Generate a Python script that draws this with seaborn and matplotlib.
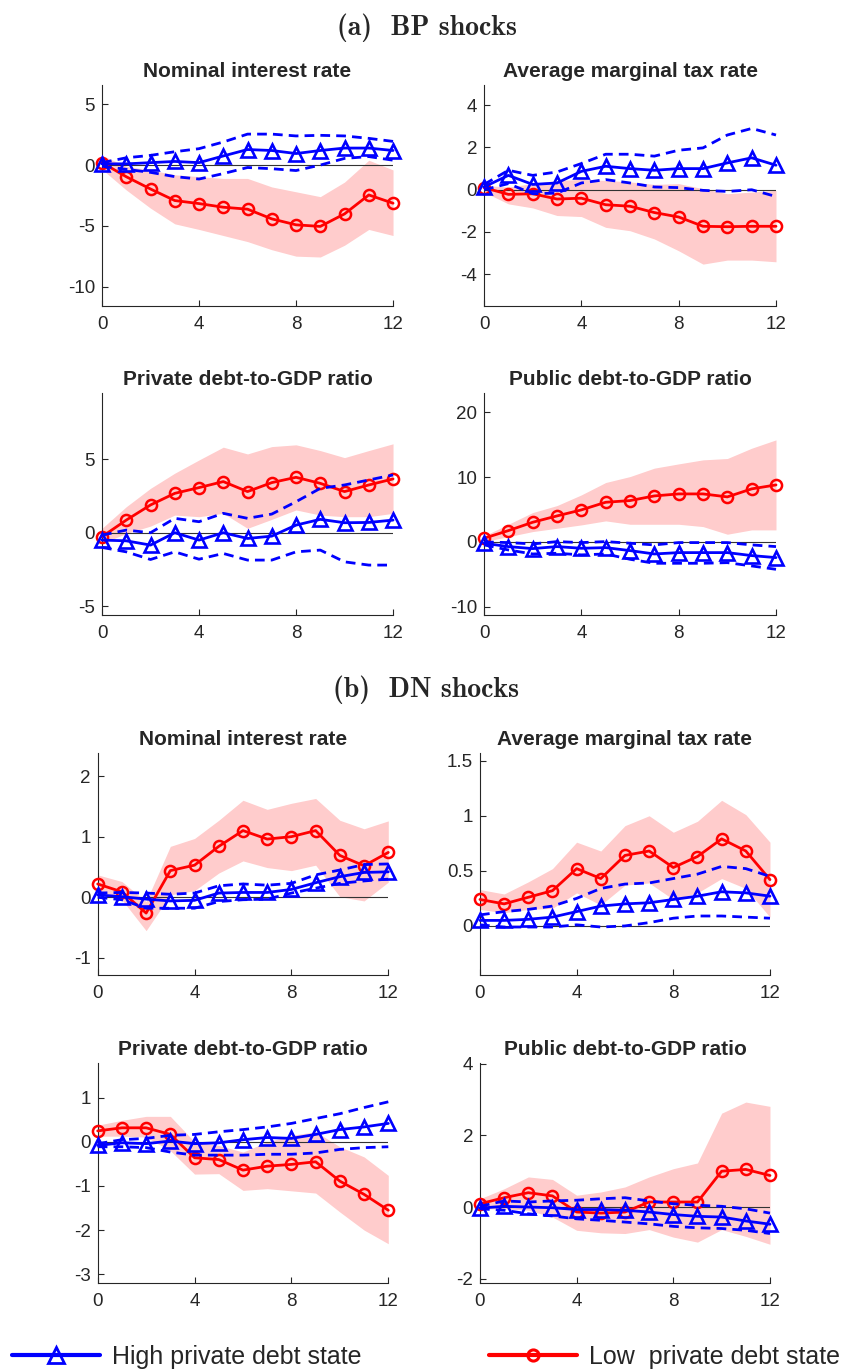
import matplotlib
matplotlib.use("Agg")
import matplotlib.pyplot as plt
from matplotlib.lines import Line2D
from matplotlib.ticker import FuncFormatter
import seaborn as sns

sns.set_style("ticks")
plt.rcParams["font.family"] = ["Liberation Sans", "DejaVu Sans"]
plt.rcParams["axes.unicode_minus"] = False

horizon = list(range(13))

# ---------------- (a) BP shocks ----------------
# Nominal interest rate
bp_rate_low = [0.2, -0.96, -1.97, -2.92, -3.17, -3.47, -3.63, -4.43, -4.92, -5.05, -4.02, -2.46, -3.14]
bp_rate_low_hi = [0.8, -0.1, -0.4, -0.8, -0.95, -1.1, -1.1, -1.8, -2.2, -2.6, -1.4, 0.4, -0.4]
bp_rate_low_lo = [-0.35, -2.05, -3.55, -4.84, -5.3, -5.8, -6.3, -6.97, -7.5, -7.57, -6.6, -5.3, -5.8]
bp_rate_high = [0.1, 0.1, 0.2, 0.3, 0.2, 0.75, 1.28, 1.2, 0.95, 1.2, 1.4, 1.4, 1.2]
bp_rate_high_hi = [0.2, 0.6, 0.8, 1.1, 1.35, 1.9, 2.55, 2.55, 2.4, 2.45, 2.4, 2.2, 1.95]
bp_rate_high_lo = [-0.1, -0.35, -0.6, -0.95, -1.15, -0.7, -0.2, -0.3, -0.45, 0.0, 0.55, 0.7, 0.4]

# Average marginal tax rate
bp_tax_low = [0.1, -0.22, -0.19, -0.44, -0.4, -0.71, -0.78, -1.08, -1.29, -1.73, -1.75, -1.73, -1.73]
bp_tax_low_hi = [0.2, 0.13, 0.29, 0.44, 0.49, 0.44, 0.37, 0.25, 0.29, 0.05, -0.19, -0.11, -0.03]
bp_tax_low_lo = [-0.11, -0.67, -0.86, -1.22, -1.27, -1.78, -1.94, -2.33, -2.89, -3.52, -3.33, -3.33, -3.41]
bp_tax_high = [0.13, 0.68, 0.25, 0.32, 0.87, 1.11, 1.0, 0.92, 1.0, 1.0, 1.27, 1.51, 1.16]
bp_tax_high_hi = [0.25, 0.92, 0.68, 0.84, 1.24, 1.68, 1.68, 1.59, 1.87, 1.98, 2.59, 2.9, 2.59]
bp_tax_high_lo = [0.0, 0.29, -0.19, -0.16, 0.32, 0.48, 0.32, 0.13, 0.1, -0.03, -0.08, 0.0, -0.32]

# Private debt-to-GDP ratio
bp_priv_low = [-0.27, 0.86, 1.89, 2.68, 3.07, 3.48, 2.8, 3.41, 3.77, 3.36, 2.8, 3.25, 3.66]
bp_priv_low_hi = [0.3, 1.77, 3.02, 4.05, 4.95, 5.82, 5.36, 5.86, 5.98, 5.59, 5.11, 5.59, 6.05]
bp_priv_low_lo = [-0.73, -0.05, 0.45, 1.2, 1.09, 1.32, 0.3, 0.91, 1.55, 1.2, 1.09, 1.09, 1.32]
bp_priv_high = [-0.5, -0.55, -0.84, 0.0, -0.5, 0.0, -0.39, -0.23, 0.52, 0.91, 0.68, 0.7, 0.86]
bp_priv_high_hi = [-0.16, 0.18, 0.0, 0.98, 0.75, 1.32, 0.98, 1.27, 2.11, 3.02, 3.25, 3.59, 3.93]
bp_priv_high_lo = [-1.0, -1.3, -1.82, -1.3, -1.8, -1.41, -1.86, -1.86, -1.3, -1.18, -1.98, -2.2, -2.2]

# Public debt-to-GDP ratio
bp_pub_low = [0.57, 1.75, 3.04, 4.02, 4.95, 6.13, 6.39, 7.11, 7.42, 7.42, 6.96, 8.2, 8.81]
bp_pub_low_hi = [0.93, 2.73, 4.54, 5.62, 7.27, 9.18, 10.1, 11.4, 12.06, 12.68, 12.89, 14.48, 15.77]
bp_pub_low_lo = [0.05, 0.82, 1.6, 2.11, 2.63, 3.25, 2.73, 2.73, 2.73, 2.37, 1.19, 1.86, 1.86]
bp_pub_high = [-0.2, -0.72, -1.03, -0.72, -0.98, -0.88, -1.34, -1.86, -1.65, -1.65, -1.65, -2.11, -2.42]
bp_pub_high_hi = [0.0, -0.1, -0.31, 0.05, -0.1, 0.05, -0.2, -0.46, -0.1, -0.1, -0.1, -0.46, -0.72]
bp_pub_high_lo = [-0.46, -1.24, -1.86, -1.75, -2.0, -1.86, -2.68, -3.3, -3.3, -3.3, -3.2, -3.71, -4.23]

# ---------------- (b) DN shocks ----------------
# Nominal interest rate
dn_rate_low = [0.22, 0.09, -0.26, 0.44, 0.53, 0.84, 1.1, 0.96, 1.0, 1.1, 0.69, 0.52, 0.74]
dn_rate_low_hi = [0.37, 0.26, -0.07, 0.84, 0.97, 1.27, 1.6, 1.45, 1.55, 1.63, 1.27, 1.13, 1.26]
dn_rate_low_lo = [0.07, -0.04, -0.55, 0.04, 0.11, 0.4, 0.6, 0.49, 0.44, 0.53, 0.01, -0.06, 0.25]
dn_rate_high = [0.04, 0.01, -0.03, -0.06, -0.05, 0.07, 0.08, 0.08, 0.13, 0.24, 0.34, 0.41, 0.42]
dn_rate_high_hi = [0.07, 0.08, 0.07, 0.05, 0.07, 0.19, 0.22, 0.2, 0.23, 0.37, 0.45, 0.54, 0.55]
dn_rate_high_lo = [0.0, -0.04, -0.18, -0.18, -0.18, -0.07, -0.04, -0.03, 0.07, 0.15, 0.23, 0.27, 0.3]

# Average marginal tax rate
dn_tax_low = [0.24, 0.2, 0.26, 0.32, 0.52, 0.43, 0.64, 0.68, 0.53, 0.63, 0.79, 0.68, 0.42]
dn_tax_low_hi = [0.33, 0.29, 0.4, 0.52, 0.76, 0.68, 0.91, 1.0, 0.85, 0.95, 1.14, 1.01, 0.76]
dn_tax_low_lo = [0.15, 0.12, 0.15, 0.16, 0.3, 0.19, 0.37, 0.39, 0.24, 0.3, 0.43, 0.34, 0.08]
dn_tax_high = [0.05, 0.05, 0.06, 0.08, 0.13, 0.18, 0.2, 0.21, 0.24, 0.27, 0.31, 0.3, 0.27]
dn_tax_high_hi = [0.1, 0.13, 0.15, 0.18, 0.25, 0.34, 0.38, 0.39, 0.43, 0.47, 0.54, 0.52, 0.45]
dn_tax_high_lo = [0.01, -0.01, -0.01, -0.01, 0.01, -0.01, 0.0, 0.03, 0.07, 0.09, 0.09, 0.08, 0.07]

# Private debt-to-GDP ratio
dn_priv_low = [0.25, 0.32, 0.32, 0.17, -0.36, -0.4, -0.64, -0.55, -0.51, -0.45, -0.89, -1.19, -1.55]
dn_priv_low_hi = [0.38, 0.49, 0.58, 0.58, 0.0, -0.08, -0.23, 0.0, 0.15, 0.23, -0.11, -0.34, -0.76]
dn_priv_low_lo = [0.13, 0.13, 0.11, -0.2, -0.73, -0.72, -1.1, -1.06, -1.11, -1.16, -1.59, -2.0, -2.31]
dn_priv_high = [-0.08, -0.02, -0.04, 0.02, -0.04, -0.02, 0.05, 0.1, 0.08, 0.17, 0.28, 0.34, 0.42]
dn_priv_high_hi = [-0.04, 0.05, 0.08, 0.15, 0.17, 0.23, 0.28, 0.34, 0.42, 0.53, 0.64, 0.78, 0.91]
dn_priv_high_lo = [-0.11, -0.11, -0.13, -0.23, -0.3, -0.3, -0.3, -0.28, -0.28, -0.25, -0.17, -0.13, -0.11]

# Public debt-to-GDP ratio
dn_pub_low = [0.09, 0.26, 0.4, 0.31, -0.14, -0.17, -0.14, 0.14, 0.14, 0.14, 1.0, 1.05, 0.88]
dn_pub_low_hi = [0.23, 0.51, 0.84, 0.77, 0.33, 0.42, 0.56, 0.84, 1.07, 1.23, 2.62, 2.93, 2.81]
dn_pub_low_lo = [-0.05, -0.05, -0.09, -0.28, -0.65, -0.72, -0.74, -0.63, -0.84, -0.98, -0.63, -0.82, -1.04]
dn_pub_high = [-0.03, 0.02, 0.0, -0.02, -0.07, -0.07, -0.09, -0.14, -0.21, -0.26, -0.28, -0.39, -0.48]
dn_pub_high_hi = [0.02, 0.17, 0.14, 0.17, 0.19, 0.23, 0.26, 0.17, 0.09, 0.05, 0.02, -0.05, -0.17]
dn_pub_high_lo = [-0.05, -0.09, -0.19, -0.25, -0.33, -0.37, -0.42, -0.47, -0.54, -0.58, -0.6, -0.65, -0.74]

panel_titles = ["Nominal interest rate", "Average marginal tax rate",
                "Private debt-to-GDP ratio", "Public debt-to-GDP ratio"]
section_titles = ["(a)  BP shocks", "(b)  DN shocks"]
legend_labels = ["High private debt state", "Low  private debt state"]
x_ticks = [0, 4, 8, 12]

BLUE = "#0000ff"
RED = "#ff0000"
BAND = "#ffcccc"
AXIS = "#262626"

# panel specs: (series, y-limits, y-ticks, axes rect in figure fraction)
panels = [
    ((bp_rate_low, bp_rate_low_lo, bp_rate_low_hi, bp_rate_high, bp_rate_high_lo, bp_rate_high_hi),
     (-11.6, 6.6), [-10, -5, 0, 5], [0.1203, 0.7770, 0.3432, 0.1611]),
    ((bp_tax_low, bp_tax_low_lo, bp_tax_low_hi, bp_tax_high, bp_tax_high_lo, bp_tax_high_hi),
     (-5.5, 4.96), [-4, -2, 0, 2, 4], [0.5708, 0.7770, 0.3443, 0.1611]),
    ((bp_priv_low, bp_priv_low_lo, bp_priv_low_hi, bp_priv_high, bp_priv_high_lo, bp_priv_high_hi),
     (-5.6, 9.5), [-5, 0, 5], [0.1203, 0.5517, 0.3432, 0.1618]),
    ((bp_pub_low, bp_pub_low_lo, bp_pub_low_hi, bp_pub_high, bp_pub_high_lo, bp_pub_high_hi),
     (-11.3, 23.0), [-10, 0, 10, 20], [0.5708, 0.5517, 0.3443, 0.1618]),
    ((dn_rate_low, dn_rate_low_lo, dn_rate_low_hi, dn_rate_high, dn_rate_high_lo, dn_rate_high_hi),
     (-1.28, 2.38), [-1, 0, 1, 2], [0.1152, 0.2894, 0.3427, 0.1618]),
    ((dn_tax_low, dn_tax_low_lo, dn_tax_low_hi, dn_tax_high, dn_tax_high_lo, dn_tax_high_hi),
     (-0.445, 1.57), [0, 0.5, 1, 1.5], [0.5660, 0.2894, 0.3420, 0.1618]),
    ((dn_priv_low, dn_priv_low_lo, dn_priv_low_hi, dn_priv_high, dn_priv_high_lo, dn_priv_high_hi),
     (-3.2, 1.79), [-3, -2, -1, 0, 1], [0.1152, 0.0649, 0.3427, 0.1603]),
    ((dn_pub_low, dn_pub_low_lo, dn_pub_low_hi, dn_pub_high, dn_pub_high_lo, dn_pub_high_hi),
     (-2.12, 4.02), [-2, 0, 2, 4], [0.5660, 0.0649, 0.3420, 0.1603]),
]

fig = plt.figure(figsize=(8.48, 13.72), dpi=100)
fmt = FuncFormatter(lambda v, _: f"{v:g}")

for i, (series, ylim, yticks, rect) in enumerate(panels):
    low, low_lo, low_hi, high, high_lo, high_hi = series
    ax = fig.add_axes(rect)
    ax.fill_between(horizon, low_lo, low_hi, color=BAND, lw=0, zorder=0)
    ax.axhline(0, color="#333333", lw=0.8, zorder=1)
    sns.lineplot(x=horizon, y=low, ax=ax, color=RED, lw=2.0, marker="o", markersize=8,
                 markerfacecolor="none", markeredgecolor=RED, markeredgewidth=1.8,
                 clip_on=False, zorder=3, legend=False)
    for band in (high_lo, high_hi):
        sns.lineplot(x=horizon, y=band, ax=ax, color=BLUE, lw=2.0,
                     linestyle=(0, (3.5, 2.2)), clip_on=False, zorder=4, legend=False)
    sns.lineplot(x=horizon, y=high, ax=ax, color=BLUE, lw=2.0, marker="^", markersize=9.5,
                 markerfacecolor="none", markeredgecolor=BLUE, markeredgewidth=1.9,
                 clip_on=False, zorder=5, legend=False)
    ax.set_xlim(0, 12)
    ax.set_ylim(*ylim)
    ax.set_xticks(x_ticks)
    ax.set_yticks(yticks)
    ax.yaxis.set_major_formatter(fmt)
    ax.set_xlabel("")
    ax.set_ylabel("")
    ax.set_title(panel_titles[i % 4], fontsize=15, fontweight="bold", pad=6)
    sns.despine(ax=ax)
    for side in ("left", "bottom"):
        ax.spines[side].set_color(AXIS)
        ax.spines[side].set_linewidth(0.8)
    ax.tick_params(direction="in", length=4, width=0.8, colors=AXIS,
                   labelsize=13.5, labelcolor=AXIS)
    ax.tick_params(axis="x", pad=7)
    ax.tick_params(axis="y", pad=5)
    ax.set_facecolor("none")

# section headings in Computer Modern bold
fig.text(0.503, 1 - 28 / 1372, section_titles[0], ha="center", va="center",
         fontsize=20, family=["cmb10", "DejaVu Serif"])
fig.text(0.503, 1 - 690 / 1372, section_titles[1], ha="center", va="center",
         fontsize=20, family=["cmb10", "DejaVu Serif"])

handles = [
    Line2D([], [], color=BLUE, lw=3, marker="^", markersize=11, markerfacecolor="none",
           markeredgecolor=BLUE, markeredgewidth=2),
    Line2D([], [], color=RED, lw=3, marker="o", markersize=8, markerfacecolor="none",
           markeredgecolor=RED, markeredgewidth=2.2),
]
fig.legend(handles, legend_labels, loc="center left", bbox_to_anchor=(12 / 848, 15 / 1372),
           ncol=2, frameon=False, fontsize=18, handlelength=3.5, handletextpad=0.5,
           columnspacing=5.1, borderpad=0, borderaxespad=0)

fig.savefig("out.png", dpi=100)
